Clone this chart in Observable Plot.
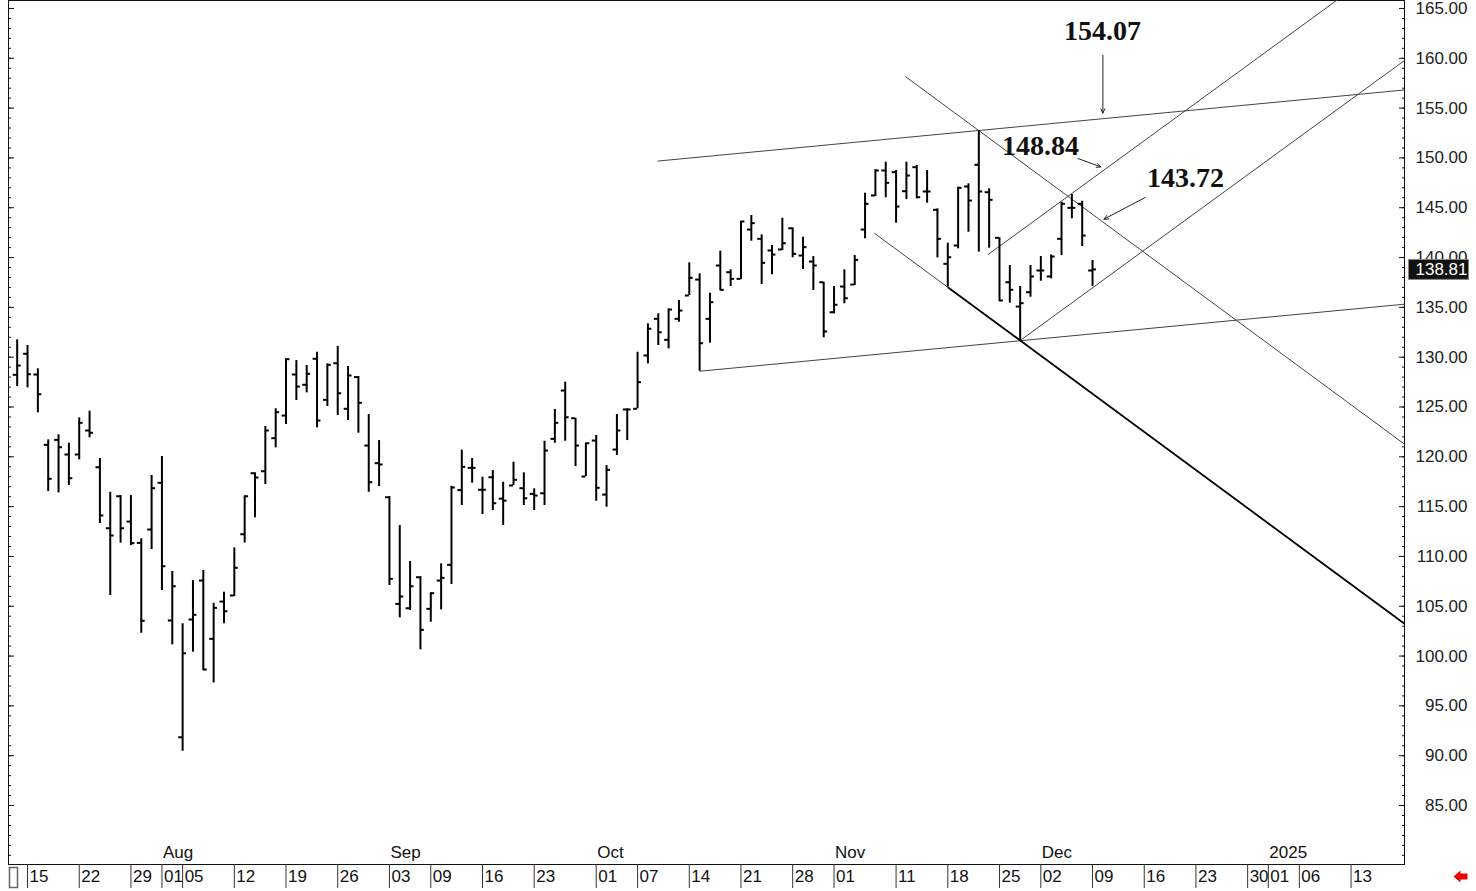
<!DOCTYPE html>
<html><head><meta charset="utf-8">
<script src="https://cdn.jsdelivr.net/npm/d3@7"></script>
<script src="https://cdn.jsdelivr.net/npm/@observablehq/plot@0.6"></script>
<style>
html,body{margin:0;padding:0;background:#fff;}
#chart svg{display:block;}
</style></head><body><div id="chart"></div>
<script>
// Trading-day index of the first bar (Jul 12, 2024); index 0 = Jul 15
const firstIdx = -1;
const open = [128.23,130.34,128.26,121.20,121.70,120.23,120.23,122.64,118.95,112.83,
116.04,113.50,111.36,112.70,117.39,103.57,91.85,103.67,107.58,101.73,
105.47,106.08,112.23,118.35,118.55,121.87,124.14,128.26,127.23,129.84,
125.72,129.39,124.82,128.00,121.13,119.36,115.94,105.24,104.80,107.91,
104.74,107.58,109.16,116.66,118.89,116.69,117.95,115.80,117.12,116.85,
116.28,116.34,121.80,126.65,123.87,118.02,121.63,116.21,120.73,124.75,
124.82,130.17,133.85,131.74,133.85,136.19,137.79,133.85,139.20,138.53,
137.86,142.81,141.88,140.71,140.81,142.94,140.20,139.60,137.52,134.51,
137.09,137.29,142.81,146.23,148.74,148.57,146.66,149.07,146.63,144.79,
139.37,141.21,147.13,149.31,146.56,141.98,137.52,135.08,136.52,138.70,
138.10,141.88,144.99,145.39,138.70];
const high = [131.74,131.17,128.83,121.70,122.21,121.36,123.91,124.58,119.83,116.44,
116.11,116.11,111.77,118.12,120.03,108.49,103.24,107.58,108.59,105.30,
106.41,110.86,116.06,118.39,123.04,124.82,129.84,129.66,129.16,130.50,
129.33,131.07,129.06,128.06,124.24,121.63,116.01,113.10,109.49,107.98,
106.35,109.26,117.04,120.67,119.83,117.95,118.62,117.45,119.46,118.39,
116.79,121.56,124.75,127.49,123.87,121.36,122.14,119.12,124.24,124.82,
130.50,133.35,134.35,134.85,135.69,139.47,138.37,136.42,140.64,138.77,
143.62,144.22,142.28,141.21,143.95,142.98,142.04,140.10,137.52,137.09,
138.77,140.20,146.46,148.81,149.57,148.74,149.57,149.24,148.74,144.89,
141.44,147.06,147.40,152.75,146.90,141.98,139.20,137.09,139.20,140.10,
140.27,145.55,146.33,145.65,139.70];
const low = [127.05,126.92,124.41,116.51,116.38,117.12,119.70,121.91,113.30,106.08,
111.33,111.09,102.29,110.69,106.58,101.13,90.45,100.39,98.55,97.31,
103.24,105.98,111.34,113.88,117.22,120.90,123.24,125.65,126.42,122.91,
125.05,124.14,123.64,122.37,116.44,117.02,107.08,103.84,104.57,100.63,
103.40,104.64,107.18,115.11,117.35,114.21,114.61,113.10,117.12,115.11,
114.61,115.11,121.36,121.56,119.02,118.02,115.54,114.94,120.13,121.63,
124.82,129.33,131.17,130.84,133.51,136.19,128.59,131.40,136.69,137.09,
137.79,141.64,137.29,138.27,140.71,139.97,138.80,136.69,131.94,134.35,
135.36,137.19,141.88,146.13,146.00,143.45,145.82,145.90,145.45,139.97,
137.02,140.88,142.54,140.54,140.94,135.59,135.42,131.67,136.02,137.62,
137.86,140.20,143.89,141.11,137.09];
const close = [129.16,128.29,126.28,117.79,120.96,117.85,123.41,122.41,114.11,112.10,
112.83,111.33,103.54,116.85,109.02,107.01,100.28,104.14,98.65,104.84,
104.50,108.86,116.04,117.92,122.64,124.48,129.80,127.05,128.33,123.64,
129.23,126.38,128.16,125.42,117.45,119.23,107.75,105.98,107.01,102.63,
106.31,107.85,116.92,118.99,118.89,116.69,115.34,115.60,117.69,115.84,
116.11,120.63,123.41,123.97,121.13,121.36,116.89,118.69,122.64,124.75,
127.49,132.85,132.50,134.78,134.68,137.97,131.40,135.52,136.76,137.86,
143.62,143.45,139.47,140.30,141.44,140.37,141.04,139.20,132.58,135.26,
135.92,139.77,145.39,148.74,147.50,145.12,148.23,146.06,146.63,141.88,
140.03,147.00,145.72,146.63,145.79,135.69,136.76,135.42,138.10,138.70,
140.10,145.39,144.99,142.21,138.81];

// x-axis (trading-day index) ticks and labels
const xTickIdx = [0,5,10,13,15,20,25,30,35,39,44,49,55,59,64,69,74,78,84,89,94,98,103,108,113,118,120,123,128];
const xTickLabels = ["15","22","29","01","05","12","19","26","03","09","16","23","01","07","14","21","28","01","11","18","25","02","09","16","23","30","01","06","13"];
const monthIdx = [13,35,55,78,98,120];
const monthNames = ["Aug","Sep","Oct","Nov","Dec","2025"];
const yTicks = [85,90,95,100,105,110,115,120,125,130,135,140,145,150,155,160,165];

// trend lines (index, price) endpoints
const lineKind = ["thin","thin","thin","thick","thin","thin","thin"];
const lineX1 = [60.93, 65.0, 81.9, 89.0, 84.9, 92.9, 96.0];
const lineY1 = [149.68, 128.59, 142.44, 137.02, 158.17, 140.30, 131.67];
const lineX2 = [133.17, 133.17, 89.0, 133.17, 133.17, 127.0, 133.17];
const lineY2 = [156.82, 135.32, 137.02, 103.25, 121.27, 166.11, 159.78];

// annotations
const annText = ["154.07","148.84","143.72"];
const annX = [103.97, 97.97, 111.99];
const annY = [162.69, 151.15, 147.94];
const arrowX1 = [104.0, 101.6, 108.1];
const arrowY1 = [160.3, 149.94, 146.03];
const arrowX2 = [104.0, 103.8, 104.1];
const arrowY2 = [154.5, 149.1, 143.85];

const bars = open.map((o, k) => ({i: firstIdx + k, open: o, high: high[k], low: low[k], close: close[k]}));
const lines = lineX1.map((x1, k) => ({x1, y1: lineY1[k], x2: lineX2[k], y2: lineY2[k], kind: lineKind[k]}));
const anns = annText.map((t, k) => ({t, x: annX[k], y: annY[k]}));
const arrows = arrowX1.map((x1, k) => ({x1, y1: arrowY1[k], x2: arrowX2[k], y2: arrowY2[k]}));
const lastClose = close[close.length - 1];
const xLabel = new Map(xTickIdx.map((d, k) => [d, xTickLabels[k]]));
const minorY = d3.range(80, 166, 1);

const FONT = '"Liberation Sans Narrow", "Liberation Sans", Arial, sans-serif';
const tickHalf = 0.38;

const boxSymbol = {draw(ctx) { ctx.rect(-30, -10, 60, 20); }};
const arrowSymbol = {draw(ctx) {
  ctx.moveTo(-7, 0); ctx.lineTo(0, -6); ctx.lineTo(0, -3); ctx.lineTo(7, -3);
  ctx.lineTo(7, 3); ctx.lineTo(0, 3); ctx.lineTo(0, 6); ctx.closePath();
}};
const smallBox = {draw(ctx) { ctx.rect(-4, -10, 8, 20); }};

const chart = Plot.plot({
  width: 1476, height: 891,
  marginLeft: 8, marginRight: 72, marginTop: 0, marginBottom: 27,
  x: {domain: [-1.84, 133.17]},
  y: {domain: [79.08, 165.8]},
  style: {fontFamily: FONT, fontSize: "17px", color: "#111", background: "#fff", overflow: "visible"},
  marks: [
    Plot.frame({stroke: "#111"}),
    // minor ticks on both vertical edges
    Plot.axisY({anchor: "left", ticks: minorY, tickSize: 3, dx: 3, tickFormat: () => "", stroke: "#111"}),
    Plot.axisY({anchor: "left", ticks: yTicks, tickSize: 6, dx: 6, tickFormat: () => "", stroke: "#111"}),
    Plot.axisY({anchor: "right", ticks: minorY, tickSize: 3, dx: -3, tickFormat: () => "", stroke: "#111"}),
    Plot.axisY({anchor: "right", ticks: yTicks, tickSize: 6, dx: -6, tickFormat: () => "", stroke: "#111"}),
    Plot.axisY({anchor: "right", ticks: yTicks, tickSize: 0, tickPadding: 63, textAnchor: "end",
      tickFormat: d => d.toFixed(2), fill: "#222"}),
    // bottom date strip
    Plot.axisX({ticks: xTickIdx, tickSize: 24, tickFormat: () => "", stroke: "#333"}),
    Plot.axisX({ticks: xTickIdx, tickSize: 0, tickPadding: 12, lineAnchor: "middle", textAnchor: "start",
      dx: 2, tickFormat: d => xLabel.get(d), fill: "#111"}),
    Plot.text(monthIdx, {x: d => d, text: (d, k) => monthNames[k], frameAnchor: "bottom", dy: -7, dx: 1,
      textAnchor: "start", fill: "#111"}),
    // trend lines
    Plot.link(lines.filter(d => d.kind === "thin"), {x1: "x1", y1: "y1", x2: "x2", y2: "y2", stroke: "#444", strokeWidth: 1, clip: true}),
    Plot.link(lines.filter(d => d.kind === "thick"), {x1: "x1", y1: "y1", x2: "x2", y2: "y2", stroke: "#000", strokeWidth: 1.8, clip: true}),
    // OHLC bars
    Plot.ruleX(bars, {x: "i", y1: "low", y2: "high", stroke: "#000", strokeWidth: 2}),
    Plot.ruleY(bars, {x1: d => d.i - tickHalf, x2: "i", y: "open", stroke: "#000", strokeWidth: 2}),
    Plot.ruleY(bars, {x1: "i", x2: d => d.i + tickHalf, y: "close", stroke: "#000", strokeWidth: 2}),
    // annotations
    Plot.arrow(arrows, {x1: "x1", y1: "y1", x2: "x2", y2: "y2", stroke: "#222", strokeWidth: 1, headLength: 7, headAngle: 50}),
    Plot.text(anns, {x: "x", y: "y", text: "t", fontFamily: '"Liberation Serif", "Times New Roman", serif',
      fontWeight: "bold", fontSize: 28, fill: "#111"}),
    // last price box
    Plot.dot([lastClose], {y: d => d, frameAnchor: "right", dx: 34, symbol: boxSymbol, fill: "#111", stroke: "#888", strokeWidth: 1, r: 1}),
    Plot.text([lastClose], {y: d => d, text: d => d.toFixed(2), frameAnchor: "right", dx: 63, textAnchor: "end", fill: "#fff"}),
    // small widgets
    Plot.dot([0], {x: null, y: null, frameAnchor: "bottom-right", dx: 56, dy: 12, symbol: arrowSymbol, fill: "#e00", r: 1}),
    Plot.dot([0], {x: null, y: null, frameAnchor: "bottom-left", dx: 5, dy: 13, symbol: smallBox, fill: "none", stroke: "#666", r: 1})
  ]
});
document.getElementById("chart").appendChild(chart);
</script></body></html>
